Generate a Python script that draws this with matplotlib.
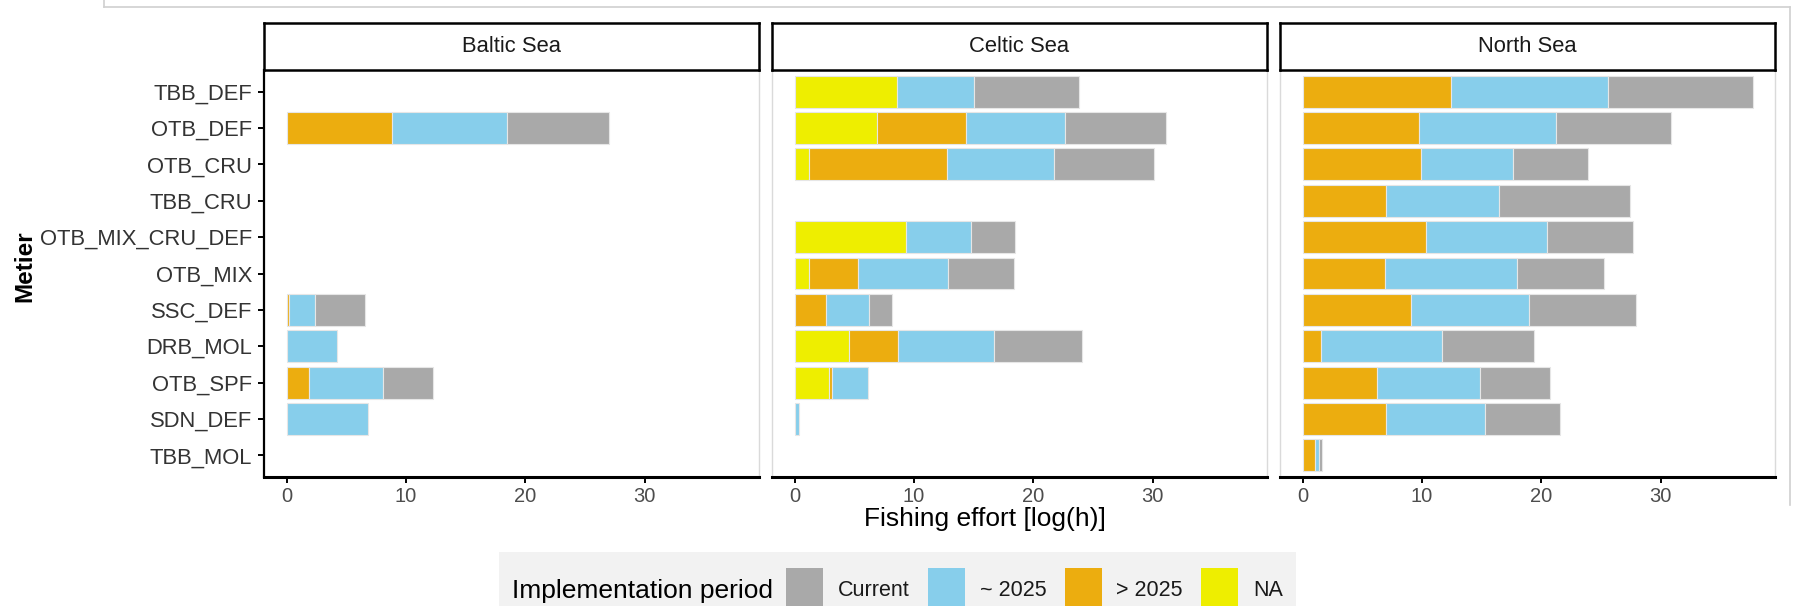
import matplotlib
matplotlib.use("Agg")
import matplotlib.pyplot as plt
from matplotlib.patches import Rectangle
from matplotlib.lines import Line2D
import numpy as np

plt.rcParams['font.family'] = ['Liberation Sans', 'DejaVu Sans']

# ---- data -------------------------------------------------------------
metiers = ['TBB_DEF', 'OTB_DEF', 'OTB_CRU', 'TBB_CRU', 'OTB_MIX_CRU_DEF',
           'OTB_MIX', 'SSC_DEF', 'DRB_MOL', 'OTB_SPF', 'SDN_DEF', 'TBB_MOL']
regions = ['Baltic Sea', 'Celtic Sea', 'North Sea']
periods = ['Current', '~ 2025', '> 2025', 'NA']
period_colors = ['#A9A9A9', '#87CEEB', '#ECAD0F', '#EEEE00']

# fishing effort per metier and implementation period, log(h)
baltic_current = [0, 8.5, 0, 0, 0, 0, 4.2, 0, 4.2, 0, 0]
baltic_2025 = [0, 9.7, 0, 0, 0, 0, 2.2, 4.2, 6.2, 6.8, 0]
baltic_after2025 = [0, 8.8, 0, 0, 0, 0, 0.2, 0, 1.9, 0, 0]
baltic_na = [0, 0, 0, 0, 0, 0, 0, 0, 0, 0, 0]

celtic_current = [8.8, 8.4, 8.4, 0, 3.7, 5.5, 1.9, 7.4, 0, 0, 0]
celtic_2025 = [6.4, 8.3, 8.9, 0, 5.5, 7.6, 3.6, 8.0, 3.0, 0.4, 0]
celtic_after2025 = [0, 7.5, 11.6, 0, 0, 4.1, 2.65, 4.1, 0.27, 0, 0]
celtic_na = [8.6, 6.9, 1.2, 0, 9.3, 1.2, 0, 4.6, 2.85, 0, 0]

north_current = [12.1, 9.7, 6.3, 10.9, 7.2, 7.3, 8.9, 7.7, 5.8, 6.3, 0.27]
north_2025 = [13.2, 11.4, 7.7, 9.5, 10.1, 11.05, 9.9, 10.1, 8.7, 8.3, 0.37]
north_after2025 = [12.4, 9.8, 9.9, 7.0, 10.35, 6.9, 9.1, 1.56, 6.2, 7.0, 1.03]
north_na = [0, 0, 0, 0, 0, 0, 0, 0, 0, 0, 0]

region_data = {
    'Baltic Sea': [baltic_current, baltic_2025, baltic_after2025, baltic_na],
    'Celtic Sea': [celtic_current, celtic_2025, celtic_after2025, celtic_na],
    'North Sea': [north_current, north_2025, north_after2025, north_na],
}
x_ticks = [0, 10, 20, 30]

# ---- layout helpers (pixel positions on a 1794 x 606 canvas) -----------
W, H = 1794, 606
def fx(x):
    return x / W
def fy(y):
    return 1 - y / H

fig = plt.figure(figsize=(W / 100, H / 100), dpi=100)

panel_left = [264, 772, 1280]
panel_w = 495
panel_top, panel_bottom = 70, 477
strip_top = 23

max_total = max(
    max(sum(v) for v in zip(*region_data[r])) for r in regions
)
xlim = (-0.05 * max_total, 1.05 * max_total)
y = np.arange(len(metiers))

tick_color = '#4D4D4D'
border_color = '#DADADA'

for i, reg in enumerate(regions):
    ax = fig.add_axes([fx(panel_left[i]), fy(panel_bottom),
                       panel_w / W, (panel_bottom - panel_top) / H])
    vals = region_data[reg]
    # stack from the left: NA, > 2025, ~ 2025, Current
    left = np.zeros(len(metiers))
    for k in [3, 2, 1, 0]:
        v = np.array(vals[k], dtype=float)
        m = v > 0
        ax.barh(y[m], v[m], left=left[m], height=0.88,
                color=period_colors[k], edgecolor='#E6E6E6', linewidth=0.8,
                zorder=2)
        left += v
    ax.set_xlim(*xlim)
    ax.set_ylim(len(metiers) - 0.4, -0.6)
    ax.set_xticks(x_ticks)
    ax.set_xticklabels([str(t) for t in x_ticks])
    ax.tick_params(axis='x', length=4.5, width=1.4, color='black',
                   labelsize=14.5, labelcolor=tick_color, pad=3)
    if i == 0:
        ax.set_yticks(y)
        ax.set_yticklabels(metiers)
        ax.tick_params(axis='y', length=4.5, width=1.4, color='black',
                       labelsize=15.8, labelcolor='#333333', pad=4)
        ax.spines['left'].set_color('black')
        ax.spines['left'].set_linewidth(1.6)
    else:
        ax.set_yticks([])
        ax.spines['left'].set_color(border_color)
        ax.spines['left'].set_linewidth(1.0)
    for s in ['right', 'top']:
        ax.spines[s].set_color(border_color)
        ax.spines[s].set_linewidth(1.0)
    ax.spines['bottom'].set_color('black')
    ax.spines['bottom'].set_linewidth(2.2)

    # facet strip
    sax = fig.add_axes([fx(panel_left[i]), fy(panel_top),
                        panel_w / W, (panel_top - strip_top) / H])
    sax.set_xticks([])
    sax.set_yticks([])
    for s in sax.spines.values():
        s.set_color('black')
        s.set_linewidth(1.8)
    sax.text(0.5, 0.5, reg, ha='center', va='center', fontsize=15.8,
             color='#1A1A1A', transform=sax.transAxes)

# axis titles
fig.text(fx(985), fy(519), 'Fishing effort [log(h)]', ha='center',
         va='center', fontsize=19, color='black')
fig.text(fx(25), fy(266), 'Metier', ha='center', va='center',
         rotation=90, fontsize=17.5, fontweight='bold', color='black')

# legend along the bottom edge
fig.patches.append(Rectangle((fx(499), fy(608)), (1296 - 499) / W,
                             (608 - 552) / H, transform=fig.transFigure,
                             facecolor='#F2F2F2', edgecolor='none', zorder=0))
fig.text(fx(512), fy(591), 'Implementation period', ha='left',
         va='center', fontsize=19, color='black')
key_x = [786, 928, 1065, 1201]
label_x = [838, 980, 1116, 1253]
for kx, lx, lab, col in zip(key_x, label_x, periods, period_colors):
    fig.patches.append(Rectangle((fx(kx), fy(608)), 37 / W, (608 - 568) / H,
                                 transform=fig.transFigure, facecolor=col,
                                 edgecolor='none', zorder=1))
    fig.text(fx(lx), fy(591), lab, ha='left', va='center', fontsize=15.5,
             color='#1A1A1A')

# thin frame around the figure area
frame = dict(color='#D0D0D0', linewidth=1.2, transform=fig.transFigure)
fig.lines.append(Line2D([fx(104), fx(104)], [fy(0), fy(7)], **frame))
fig.lines.append(Line2D([fx(104), fx(1790)], [fy(7), fy(7)], **frame))
fig.lines.append(Line2D([fx(1790), fx(1790)], [fy(7), fy(505)], **frame))

fig.savefig('out.png', dpi=100, facecolor='white')
